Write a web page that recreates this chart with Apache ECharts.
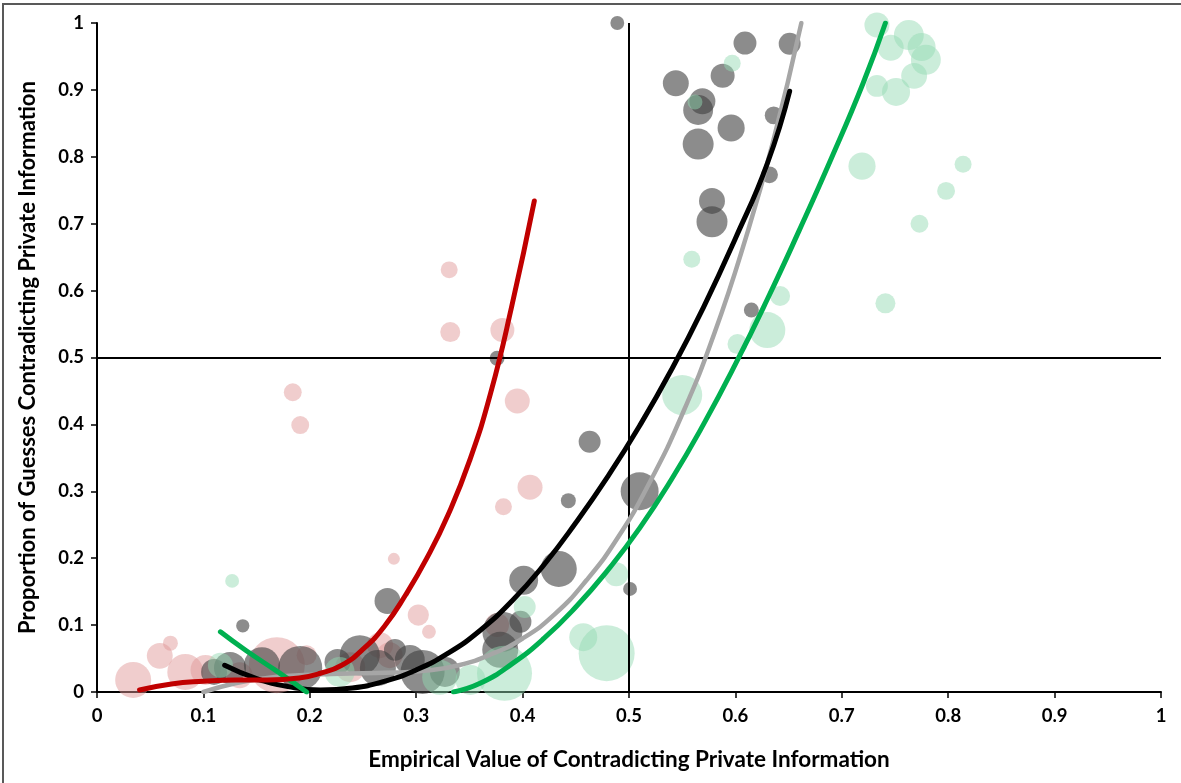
<!DOCTYPE html>
<html lang="en">

<head>
    <meta charset="UTF-8">
    <title>Contradicting Private Information</title>
    <script src="https://cdn.jsdelivr.net/npm/echarts@6/dist/echarts.min.js"></script>
    <style>
        * {
            padding: 0;
            margin: 0;
        }

        html,
        body {
            width: 100%;
            height: 100%;
            background: #fff;
        }

        #chart {
            width: 1181px;
            height: 783px;
        }
    </style>
</head>

<body>
    <div id="chart"></div>
</body>

</html>
<script>
    // bubbles: [empirical value, proportion of guesses, n]
    let pinkBubbles = [
        [0.331, 0.631, 18], [0.332, 0.538, 25], [0.381, 0.541, 36], [0.184, 0.448, 20],
        [0.191, 0.399, 20], [0.395, 0.435, 39], [0.407, 0.306, 39], [0.382, 0.277, 18],
        [0.279, 0.199, 9], [0.302, 0.115, 28], [0.312, 0.090, 12], [0.376, 0.100, 36],
        [0.069, 0.073, 14], [0.059, 0.054, 42], [0.034, 0.018, 81], [0.083, 0.030, 81],
        [0.102, 0.033, 56], [0.134, 0.025, 42], [0.169, 0.040, 196], [0.197, 0.055, 25],
        [0.266, 0.070, 42], [0.275, 0.055, 42], [0.238, 0.037, 56]
    ];
    let grayBubbles = [
        [0.489, 1.0, 12], [0.609, 0.970, 33], [0.651, 0.969, 30], [0.544, 0.910, 42],
        [0.588, 0.921, 36], [0.569, 0.883, 42], [0.565, 0.870, 56], [0.565, 0.819, 60],
        [0.596, 0.843, 46], [0.636, 0.862, 20], [0.632, 0.773, 18], [0.578, 0.734, 42],
        [0.578, 0.703, 60], [0.615, 0.571, 14], [0.376, 0.499, 14], [0.463, 0.374, 30],
        [0.443, 0.286, 14], [0.510, 0.300, 90], [0.434, 0.184, 81], [0.401, 0.167, 52],
        [0.501, 0.154, 12], [0.273, 0.136, 42], [0.137, 0.099, 11], [0.381, 0.090, 100],
        [0.398, 0.105, 30], [0.379, 0.063, 81], [0.125, 0.036, 64], [0.155, 0.040, 81],
        [0.191, 0.036, 121], [0.226, 0.045, 42], [0.247, 0.055, 100], [0.264, 0.036, 81],
        [0.280, 0.063, 30], [0.294, 0.048, 56], [0.306, 0.030, 121], [0.327, 0.030, 56],
        [0.110, 0.030, 42]
    ];
    let greenBubbles = [
        [0.127, 0.166, 12], [0.814, 0.789, 18], [0.798, 0.749, 20], [0.773, 0.700, 20],
        [0.741, 0.581, 25], [0.719, 0.786, 46], [0.559, 0.647, 18], [0.733, 0.997, 39],
        [0.746, 0.963, 42], [0.763, 0.982, 56], [0.775, 0.964, 49], [0.779, 0.945, 56],
        [0.768, 0.921, 42], [0.751, 0.897, 49], [0.733, 0.906, 30], [0.597, 0.940, 18],
        [0.562, 0.882, 14], [0.630, 0.541, 81], [0.602, 0.520, 25], [0.550, 0.444, 100],
        [0.642, 0.592, 25], [0.488, 0.176, 36], [0.457, 0.082, 49], [0.479, 0.058, 196],
        [0.402, 0.127, 30], [0.383, 0.028, 189], [0.322, 0.022, 76], [0.228, 0.030, 56],
        [0.116, 0.040, 39], [0.351, 0.018, 56]
    ];

    // trend lines
    let redTrend = [
        [0.040, 0.003], [0.070, 0.012], [0.100, 0.016], [0.130, 0.018], [0.160, 0.018],
        [0.190, 0.021], [0.210, 0.028], [0.230, 0.040], [0.250, 0.064], [0.270, 0.098],
        [0.290, 0.145], [0.310, 0.200], [0.330, 0.265], [0.350, 0.345], [0.370, 0.447],
        [0.390, 0.578], [0.411, 0.734]
    ];
    let blackTrend = [
        [0.120, 0.040], [0.150, 0.020], [0.180, 0.008], [0.210, 0.003], [0.240, 0.006],
        [0.270, 0.016], [0.300, 0.033], [0.330, 0.058], [0.360, 0.092], [0.390, 0.136],
        [0.420, 0.190], [0.450, 0.253], [0.480, 0.322], [0.510, 0.398], [0.540, 0.482],
        [0.570, 0.575], [0.600, 0.678], [0.630, 0.790], [0.651, 0.898]
    ];
    let grayTrend = [
        [0.100, 0.000], [0.130, 0.013], [0.160, 0.021], [0.190, 0.025], [0.220, 0.027],
        [0.250, 0.028], [0.280, 0.029], [0.310, 0.032], [0.340, 0.040], [0.370, 0.056],
        [0.400, 0.080], [0.430, 0.116], [0.460, 0.167], [0.490, 0.232], [0.520, 0.315],
        [0.550, 0.415], [0.580, 0.535], [0.610, 0.680], [0.635, 0.820], [0.662, 1.000]
    ];
    let greenTrendLeft = [
        [0.116, 0.090], [0.140, 0.062], [0.170, 0.030], [0.197, 0.000]
    ];
    let greenTrendRight = [
        [0.335, 0.000], [0.360, 0.013], [0.390, 0.042], [0.420, 0.080], [0.450, 0.127],
        [0.480, 0.182], [0.510, 0.245], [0.540, 0.318], [0.570, 0.400], [0.600, 0.490],
        [0.630, 0.587], [0.660, 0.690], [0.690, 0.797], [0.720, 0.910], [0.741, 1.000]
    ];

    let font = 'Lato, "Noto Sans", sans-serif';
    let bubbleSize = function (d) {
        return 4 * Math.sqrt(d[2]);
    };

    function bubbles(data, color, z) {
        return {
            type: 'scatter',
            data: data,
            symbolSize: bubbleSize,
            itemStyle: { color: color },
            z: z
        };
    }

    function trend(data, color, width, z) {
        return {
            type: 'line',
            data: data,
            smooth: 0.5,
            showSymbol: false,
            lineStyle: { color: color, width: width, cap: 'round', join: 'round' },
            z: z
        };
    }

    var myChart = echarts.init(document.getElementById('chart'));
    option = {
        animation: false,
        backgroundColor: '#fff',
        graphic: [{
            type: 'rect',
            shape: { x: 3, y: 4, width: 1300, height: 900 },
            style: { fill: 'none', stroke: '#595959', lineWidth: 2 },
            silent: true
        }],
        grid: { left: 97, right: 20, top: 23, bottom: 91 },
        xAxis: {
            type: 'value',
            min: 0,
            max: 1,
            interval: 0.1,
            name: 'Empirical Value of Contradicting Private Information',
            nameLocation: 'middle',
            nameGap: 56,
            nameTextStyle: { fontFamily: font, fontWeight: 'bold', fontSize: 22.5, color: '#000' },
            axisLine: { lineStyle: { color: '#000', width: 2 } },
            axisTick: { length: 6, lineStyle: { color: '#000', width: 1.5 } },
            axisLabel: { fontFamily: font, fontWeight: 'bold', fontSize: 18.5, color: '#000', margin: 15 },
            splitLine: { show: false }
        },
        yAxis: {
            type: 'value',
            min: 0,
            max: 1,
            interval: 0.1,
            name: 'Proportion of Guesses Contradicting Private Information',
            nameLocation: 'middle',
            nameGap: 58,
            nameRotate: 90,
            nameTextStyle: { fontFamily: font, fontWeight: 'bold', fontSize: 22, color: '#000' },
            axisLine: { show: true, lineStyle: { color: '#000', width: 2 } },
            axisTick: { show: true, length: 6, lineStyle: { color: '#000', width: 1.5 } },
            axisLabel: { fontFamily: font, fontWeight: 'bold', fontSize: 18.5, color: '#000', margin: 13 },
            splitLine: { show: false }
        },
        series: [
            {
                type: 'scatter',
                data: [],
                markLine: {
                    silent: true,
                    symbol: 'none',
                    label: { show: false },
                    lineStyle: { color: '#000', width: 2, type: 'solid' },
                    data: [{ xAxis: 0.5 }, { yAxis: 0.5 }]
                },
                z: 1
            },
            bubbles(pinkBubbles, 'rgba(224, 150, 150, 0.6)', 2),
            bubbles(grayBubbles, 'rgba(64, 64, 64, 0.75)', 3),
            bubbles(greenBubbles, 'rgba(146, 218, 178, 0.6)', 4),
            trend(grayTrend, '#A6A6A6', 4.5, 5),
            trend(blackTrend, '#000000', 5, 6),
            trend(greenTrendLeft, '#00B050', 5, 7),
            trend(greenTrendRight, '#00B050', 5, 7),
            trend(redTrend, '#C00000', 5, 8)
        ]
    };
    myChart.setOption(option);
</script>
